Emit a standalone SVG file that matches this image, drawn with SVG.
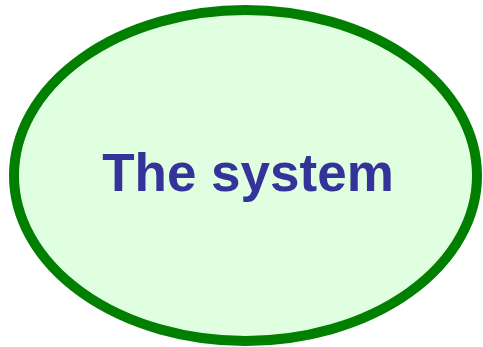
<svg xmlns="http://www.w3.org/2000/svg" width="483" height="347" viewBox="0 0 483 347">
<style>
.node{fill:#e0ffe0;stroke:#007f00;stroke-width:10}
.label{font-family:"Liberation Sans",Arial,sans-serif;font-weight:bold;font-size:53px;fill:#333399;text-anchor:middle}
</style>
<rect width="483" height="347" fill="#ffffff"/>
<g id="connectors"></g>
<g id="system">
<ellipse class="node" cx="245.5" cy="175.5" rx="231.5" ry="165.5"/>
<text class="label" x="248" y="191">The system</text>
</g>
</svg>
